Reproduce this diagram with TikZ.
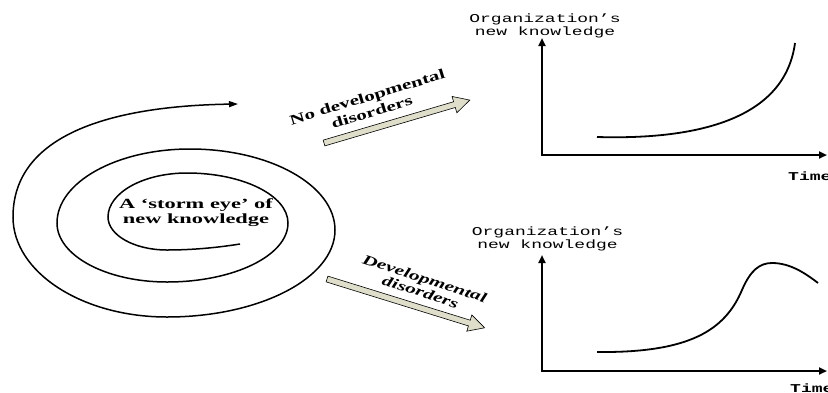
\documentclass[tikz,border=0pt]{standalone}
\usepackage{fontspec}
\setmainfont{Liberation Serif}
\setmonofont{Liberation Mono}
\usepackage{graphicx}
\usetikzlibrary{arrows.meta}
\definecolor{arrowfill}{RGB}{222,222,202}
\newcommand{\wideX}[2]{\scalebox{#1}[1]{#2}}
\begin{document}
\begin{tikzpicture}[x=1pt,y=-1pt,
  spiral/.style={line width=1.5pt, -{Triangle[length=9pt,width=6pt]}},
  axis/.style={line width=2pt, line join=miter, {Triangle[length=8pt,width=7pt]}-{Triangle[length=8pt,width=7pt]}},
  curve/.style={line width=1.8pt},
  blockarrow/.style={draw=black, line width=0.6pt, fill=arrowfill, line join=miter},
  boldlbl/.style={font=\fontsize{14}{16}\selectfont\bfseries, inner sep=0pt},
  eyelbl/.style={font=\fontsize{14}{14.5}\selectfont\bfseries, inner sep=0pt},
  itlbl/.style={font=\fontsize{14}{14}\selectfont\bfseries\itshape, inner sep=0pt},
  mono/.style={font=\ttfamily\fontsize{12}{13}\selectfont, inner sep=0pt},
  timelbl/.style={font=\ttfamily\bfseries\fontsize{12}{13}\selectfont, inner sep=0pt, anchor=west}]
\useasboundingbox (0,0) rectangle (828,392);

% spiral (clockwise on screen, growing outward)
\coordinate (s0) at (240,244);
\coordinate (sb1) at (167,250);
\coordinate (sl1) at (108,217);
\coordinate (st1) at (187,173);
\coordinate (sr1) at (288,223);
\coordinate (sb2) at (167,282);
\coordinate (sl2) at (57,223);
\coordinate (st2) at (190,149);
\coordinate (sr2) at (335,230);
\coordinate (sb3) at (167,317);
\coordinate (sl3) at (13,217);
\coordinate (send) at (238,104);
\draw[spiral] (s0) .. controls (215,248) and (190,250) .. (sb1)
  .. controls (134.4,250) and (108,235.2) .. (sl1)
  .. controls (108,192.7) and (143.4,173) .. (st1)
  .. controls (242.8,173) and (288,195.4) .. (sr1)
  .. controls (288,255.6) and (233.8,282) .. (sb2)
  .. controls (106.3,282) and (57,255.6) .. (sl2)
  .. controls (57,182.2) and (116.6,149) .. (st2)
  .. controls (270,149) and (335,185.3) .. (sr2)
  .. controls (335,278) and (259.7,317) .. (sb3)
  .. controls (82,317) and (13,272.2) .. (sl3)
  .. controls (13,135) and (110,106) .. (send);
\node[eyelbl] (eye) at (196,213) {\wideX{1.6}{\begin{tabular}{@{}c@{}}A ‘storm eye’ of\\new knowledge\end{tabular}}};

% block arrows
\coordinate (t1) at (324,143);
\begin{scope}[shift={(t1)}, rotate=16.4]
  \draw[blockarrow] (0,-3) -- (136,-3) -- (136,-8.5) -- (152,0) -- (136,8.5) -- (136,3) -- (0,3) -- cycle;
\end{scope}
\coordinate (t2) at (327,279);
\begin{scope}[shift={(t2)}, rotate=-17.2]
  \draw[blockarrow] (0,-3) -- (149,-3) -- (149,-8.5) -- (165,0) -- (149,8.5) -- (149,3) -- (0,3) -- cycle;
\end{scope}
\node[boldlbl, rotate=17] (l1) at (370,106) {\wideX{1.5}{\begin{tabular}{@{}c@{}}No developmental\\disorders\end{tabular}}};
\node[itlbl, rotate=-18] (l2) at (422,287) {\wideX{1.5}{\begin{tabular}{@{}c@{}}Developmental\\disorders\end{tabular}}};

% top chart
\coordinate (ya) at (542,38);
\coordinate (oa) at (542,155);
\coordinate (xa) at (827,155);
\draw[axis] (ya) -- (oa) -- (xa);
\draw[curve] (597,137) .. controls (700,140) and (785,118) .. (795,43);
\node[mono] (yla) at (545,26.5) {\wideX{1.5}{\begin{tabular}{@{}c@{}}Organization’s\\new knowledge\end{tabular}}};
\node[timelbl] (tla) at (788,176) {\wideX{1.5}{Time}};

% bottom chart
\coordinate (yb) at (542,255);
\coordinate (ob) at (542,371);
\coordinate (xb) at (827,371);
\draw[axis] (yb) -- (ob) -- (xb);
\draw[curve] (597,352) .. controls (690,353) and (725,330) .. (742,290)
  .. controls (750.5,270) and (760,263) .. (772,263)
  .. controls (790,263) and (805,273) .. (818,283);
\node[mono] (ylb) at (547.5,239) {\wideX{1.5}{\begin{tabular}{@{}c@{}}Organization’s\\new knowledge\end{tabular}}};
\node[timelbl] (tlb) at (790,388) {\wideX{1.5}{Time}};
\end{tikzpicture}
\end{document}
